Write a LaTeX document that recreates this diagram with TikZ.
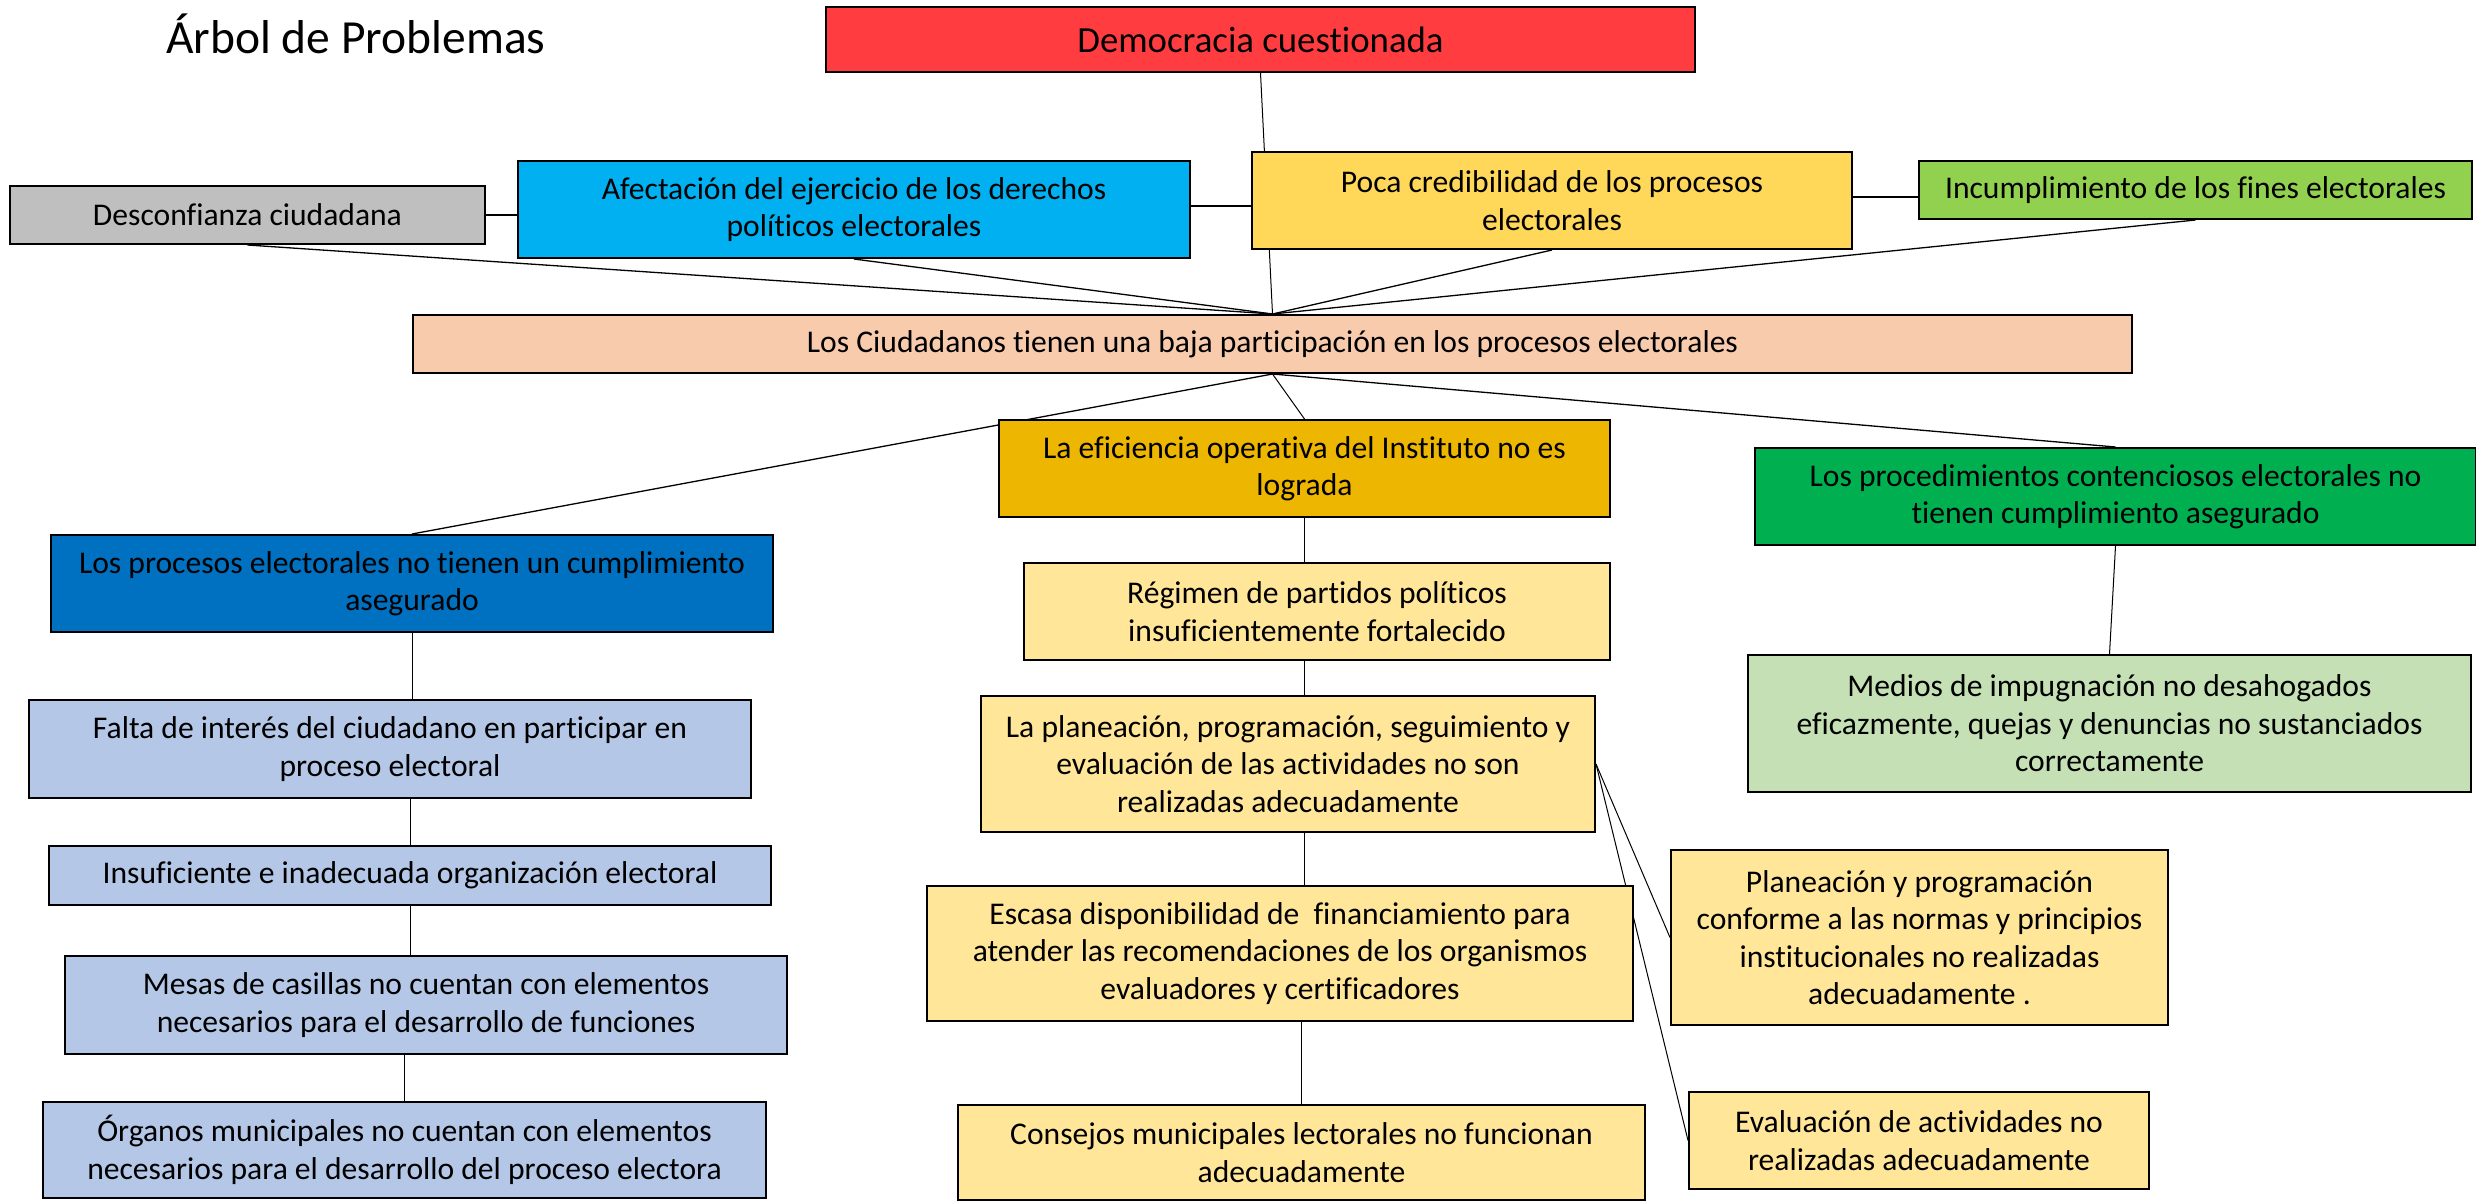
\documentclass[tikz,border=0pt]{standalone}
\usepackage{fontspec}
\setmainfont{Carlito}[Ligatures={NoCommon,NoContextual,NoRare}, Contextuals={NoAlternate}]
\pgfdeclarelayer{bg}
\pgfsetlayers{bg,main}
\definecolor{cRed}{RGB}{255,60,63}
\definecolor{cGray}{RGB}{191,191,191}
\definecolor{cCyan}{RGB}{0,176,240}
\definecolor{cGold}{RGB}{255,216,90}
\definecolor{cLime}{RGB}{146,208,80}
\definecolor{cPeach}{RGB}{248,203,173}
\definecolor{cAmber}{RGB}{237,182,0}
\definecolor{cGreen}{RGB}{0,176,80}
\definecolor{cBlue}{RGB}{0,112,192}
\definecolor{cCream}{RGB}{255,230,153}
\definecolor{cMint}{RGB}{197,224,180}
\definecolor{cSky}{RGB}{180,199,231}
\tikzset{
  box/.style={draw=black, line width=2pt, inner sep=0pt, align=center,
    font=\fontsize{31.6}{37.5}\selectfont},
  con/.style={line width=1.3pt},
  vcon/.style={line width=1pt}
}
\begin{document}
\begin{tikzpicture}[x=1pt,y=-1pt]
\useasboundingbox (0,0) rectangle (2476,1200);
% title
\node[anchor=base west, inner sep=0pt, font=\fontsize{47.5}{56}\selectfont] (title) at (166,53) {Árbol de Problemas};
% top
\node[box, fill=cRed, minimum width=869pt, minimum height=65pt, font=\fontsize{36.8}{44}\selectfont] (dem) at (1260.5,39.5) {Democracia cuestionada};
\node[box, fill=cGray, minimum width=475pt, minimum height=58pt] (desc) at (247.5,215) {Desconfianza ciudadana};
\node[box, fill=cCyan, minimum width=672pt, minimum height=97pt] (afec) at (854,209.5) {Afectación del ejercicio de los derechos\\políticos electorales};
\node[box, fill=cGold, minimum width=600pt, minimum height=97pt] (poca) at (1552,200.5) {Poca credibilidad de los procesos\\electorales};
\node[box, fill=cLime, minimum width=553pt, minimum height=58pt] (incum) at (2195.5,190) {Incumplimiento de los fines electorales};
\node[box, fill=cPeach, minimum width=1719pt, minimum height=58pt] (cid) at (1272.5,344) {Los Ciudadanos tienen una baja participación en los procesos electorales};
% middle row
\node[box, fill=cAmber, minimum width=611pt, minimum height=97pt] (efi) at (1304.5,468.5) {La eficiencia operativa del Instituto no es\\lograda};
\node[box, fill=cGreen, minimum width=721pt, minimum height=97pt] (proc) at (2115.5,496.5) {Los procedimientos contenciosos electorales no\\tienen cumplimiento asegurado};
\node[box, fill=cBlue, minimum width=722pt, minimum height=97pt] (procesos) at (412,583.5) {Los procesos electorales no tienen un cumplimiento\\asegurado};
% left column
\node[box, fill=cSky, minimum width=722pt, minimum height=98pt] (falta) at (390,749) {Falta de interés del ciudadano en participar en\\proceso electoral};
\node[box, fill=cSky, minimum width=722pt, minimum height=59pt] (insuf) at (410,875.5) {Insuficiente e inadecuada organización electoral};
\node[box, fill=cSky, minimum width=722pt, minimum height=98pt] (mesas) at (426,1005) {Mesas de casillas no cuentan con elementos\\necesarios para el desarrollo de funciones};
\node[box, fill=cSky, minimum width=723pt, minimum height=96pt] (organos) at (404.5,1150) {Órganos municipales no cuentan con elementos\\necesarios para el desarrollo del proceso electora};
% centre column
\node[box, fill=cCream, minimum width=586pt, minimum height=97pt] (reg) at (1317,611.5) {Régimen de partidos políticos\\insuficientemente fortalecido};
\node[box, fill=cCream, minimum width=614pt, minimum height=136pt] (plan) at (1288,764) {La planeación, programación, seguimiento y\\evaluación de las actividades no son\\realizadas adecuadamente};
\node[box, fill=cCream, minimum width=706pt, minimum height=135pt] (escasa) at (1280,953.5) {Escasa disponibilidad de\ \ financiamiento para\\atender las recomendaciones de los organismos\\evaluadores y certificadores};
\node[box, fill=cCream, minimum width=687pt, minimum height=95pt] (consejos) at (1301.5,1152.5) {Consejos municipales lectorales no funcionan\\adecuadamente};
% right column
\node[box, fill=cMint, minimum width=723pt, minimum height=137pt] (medios) at (2109.5,723.5) {Medios de impugnación no desahogados\\eficazmente, quejas y denuncias no sustanciados\\correctamente};
\node[box, fill=cCream, minimum width=497pt, minimum height=175pt] (ppp) at (1919.5,937.5) {Planeación y programación\\conforme a las normas y principios\\institucionales no realizadas\\adecuadamente .};
\node[box, fill=cCream, minimum width=460pt, minimum height=97pt] (eval) at (1919,1140.5) {Evaluación de actividades no\\realizadas adecuadamente};
% connectors
\begin{pgfonlayer}{bg}
\draw[vcon] (dem.south) -- (cid.north);
\draw[con] (desc.south) -- (cid.north);
\draw[con] (afec.south) -- (cid.north);
\draw[con] (poca.south) -- (cid.north);
\draw[con] (incum.south) -- (cid.north);
\draw[con] (desc.east) -- (desc.east -| afec.west);
\draw[con] (afec.east |- 0,206) -- (poca.west |- 0,206);
\draw[con] (poca.east |- 0,197) -- (incum.west |- 0,197);
\draw[con] (cid.south) -- (procesos.north);
\draw[vcon] (cid.south) -- (efi.north);
\draw[con] (cid.south) -- (proc.north);
\draw[vcon] (procesos.south) -- (procesos.south |- falta.north);
\draw[vcon] (insuf.north |- falta.south) -- (insuf.north);
\draw[vcon] (insuf.south) -- (insuf.south |- mesas.north);
\draw[vcon] (organos.north |- mesas.south) -- (organos.north);
\draw[vcon] (efi.south) -- (efi.south |- reg.north);
\draw[vcon] (reg.south -| efi.south) -- (plan.north -| efi.south);
\draw[vcon] (plan.south -| efi.south) -- (escasa.north -| efi.south);
\draw[vcon] (consejos.north |- escasa.south) -- (consejos.north);
\draw[vcon] (proc.south) -- (medios.north);
\draw[vcon] (plan.east) -- (ppp.west);
\draw[vcon] (plan.east) -- (eval.west);
\end{pgfonlayer}
\end{tikzpicture}
\end{document}
